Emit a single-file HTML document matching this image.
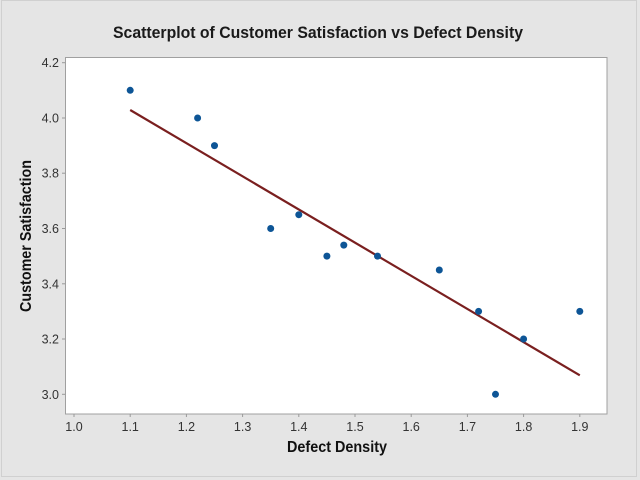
<!DOCTYPE html>
<html>
<head>
<meta charset="utf-8">
<style>
html,body{margin:0;padding:0;background:#e5e5e5;}
svg{display:block;}
text{font-family:"Liberation Sans",sans-serif;}
</style>
</head>
<body>
<svg width="640" height="480" viewBox="0 0 640 480" xmlns="http://www.w3.org/2000/svg">
<rect x="0" y="0" width="640" height="480" fill="#e5e5e5"/>
<rect x="1.5" y="0.5" width="635" height="476" fill="none" stroke="#d0d0d0" stroke-width="1"/>
<text x="318" y="38" text-anchor="middle" font-size="17" font-weight="bold" fill="#1a1a1a" textLength="410" lengthAdjust="spacingAndGlyphs">Scatterplot of Customer Satisfaction vs Defect Density</text>
<rect x="65.5" y="57.5" width="541.5" height="356.5" fill="#ffffff" stroke="#a0a0a0" stroke-width="1"/>
<g stroke="#999" stroke-width="1">
<line x1="62" y1="62.7" x2="65" y2="62.7"/>
<line x1="62" y1="118" x2="65" y2="118"/>
<line x1="62" y1="173.2" x2="65" y2="173.2"/>
<line x1="62" y1="228.5" x2="65" y2="228.5"/>
<line x1="62" y1="283.8" x2="65" y2="283.8"/>
<line x1="62" y1="339" x2="65" y2="339"/>
<line x1="62" y1="394.3" x2="65" y2="394.3"/>
<line x1="74" y1="414" x2="74" y2="417"/>
<line x1="130.2" y1="414" x2="130.2" y2="417"/>
<line x1="186.4" y1="414" x2="186.4" y2="417"/>
<line x1="242.6" y1="414" x2="242.6" y2="417"/>
<line x1="298.8" y1="414" x2="298.8" y2="417"/>
<line x1="355" y1="414" x2="355" y2="417"/>
<line x1="411.2" y1="414" x2="411.2" y2="417"/>
<line x1="467.4" y1="414" x2="467.4" y2="417"/>
<line x1="523.6" y1="414" x2="523.6" y2="417"/>
<line x1="579.8" y1="414" x2="579.8" y2="417"/>
</g>
<g font-size="12.5" fill="#333" text-anchor="end">
<text x="59" y="67">4.2</text>
<text x="59" y="122.5">4.0</text>
<text x="59" y="177.7">3.8</text>
<text x="59" y="233">3.6</text>
<text x="59" y="288.3">3.4</text>
<text x="59" y="343.5">3.2</text>
<text x="59" y="398.8">3.0</text>
</g>
<g font-size="12.5" fill="#333" text-anchor="middle">
<text x="74" y="431">1.0</text>
<text x="130.2" y="431">1.1</text>
<text x="186.4" y="431">1.2</text>
<text x="242.6" y="431">1.3</text>
<text x="298.8" y="431">1.4</text>
<text x="355" y="431">1.5</text>
<text x="411.2" y="431">1.6</text>
<text x="467.4" y="431">1.7</text>
<text x="523.6" y="431">1.8</text>
<text x="579.8" y="431">1.9</text>
</g>
<text x="337" y="452" text-anchor="middle" font-size="15.5" font-weight="bold" fill="#111" textLength="100" lengthAdjust="spacingAndGlyphs">Defect Density</text>
<text transform="translate(31,236) rotate(-90)" text-anchor="middle" font-size="15.5" font-weight="bold" fill="#111" textLength="152" lengthAdjust="spacingAndGlyphs">Customer Satisfaction</text>
<line x1="130.2" y1="110" x2="579.8" y2="375.3" stroke="#7a1f1f" stroke-width="2.2"/>
<g fill="#0d5596">
<circle cx="130.2" cy="90.3" r="3.5"/>
<circle cx="197.6" cy="118" r="3.5"/>
<circle cx="214.5" cy="145.6" r="3.5"/>
<circle cx="270.7" cy="228.5" r="3.5"/>
<circle cx="298.8" cy="214.7" r="3.5"/>
<circle cx="326.9" cy="256.1" r="3.5"/>
<circle cx="343.8" cy="245.1" r="3.5"/>
<circle cx="377.5" cy="256.1" r="3.5"/>
<circle cx="439.3" cy="270" r="3.5"/>
<circle cx="478.6" cy="311.4" r="3.5"/>
<circle cx="495.5" cy="394.3" r="3.5"/>
<circle cx="523.6" cy="339" r="3.5"/>
<circle cx="579.8" cy="311.4" r="3.5"/>
</g>
</svg>
</body>
</html>
